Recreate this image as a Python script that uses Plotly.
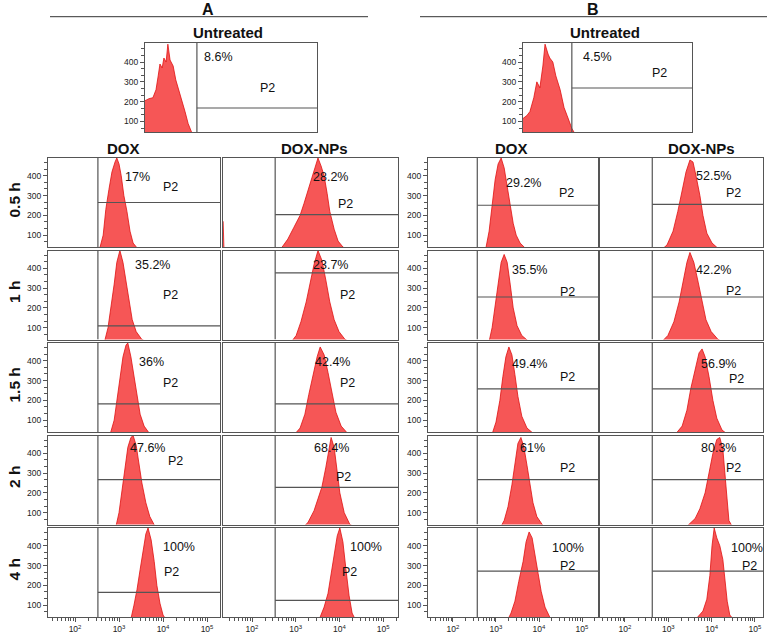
import math
import plotly.graph_objects as go

# ---------------- DATA (x = log10 fluorescence intensity, y = event count) ----------------
times = ["0.5 h", "1 h", "1.5 h", "2 h", "4 h"]
groups = ["A", "B"]
columns = ["DOX", "DOX-NPs"]
x_tick_vals = [2, 3, 4, 5]
x_tick_text = ["10<sup>2</sup>", "10<sup>3</sup>", "10<sup>4</sup>", "10<sup>5</sup>"]
y_tick_vals = [100, 200, 300, 400]

pct_untreated = ["8.6%", "4.5%"]
pct_A_DOX = ["17%", "35.2%", "36%", "47.6%", "100%"]
pct_A_NP = ["28.2%", "23.7%", "42.4%", "68.4%", "100%"]
pct_B_DOX = ["29.2%", "35.5%", "49.4%", "61%", "100%"]
pct_B_NP = ["52.5%", "42.2%", "56.9%", "80.3%", "100%"]

# gate (P2) thresholds
gate_x_untreated = [2.57, 2.52]
gate_y_untreated = [168, 269]
gate_x_cols = [2.52, 2.53, 2.565, 2.63]          # A-DOX, A-NP, B-DOX, B-NP
gate_y_A_DOX = [265, 109, 182, 267, 165]
gate_y_A_NP = [204, 377, 182, 228, 124]
gate_y_B_DOX = [251, 255, 258, 267, 272]
gate_y_B_NP = [256, 255, 258, 267, 272]

# Untreated
UA_x = [1.39, 1.48, 1.57, 1.64, 1.69, 1.73, 1.78, 1.82, 1.87, 1.91, 1.96, 2.03, 2.09, 2.16, 2.23, 2.30, 2.37, 2.46, 2.57, 2.87, 3.55]
UA_y = [205, 215, 220, 260, 330, 390, 370, 420, 400, 490, 410, 380, 310, 260, 200, 150, 90, 40, 12, 5, 2]
UB_x = [1.39, 1.48, 1.55, 1.64, 1.71, 1.78, 1.85, 1.90, 1.97, 2.01, 2.08, 2.15, 2.25, 2.34, 2.41, 2.52, 2.64, 2.94, 3.63]
UB_y = [115, 130, 150, 220, 300, 270, 380, 490, 440, 420, 400, 330, 260, 170, 130, 65, 20, 8, 3]

# A - DOX
A_DOX_05_x = [2.48, 2.57, 2.64, 2.70, 2.77, 2.84, 2.91, 2.95, 3.00, 3.05, 3.11, 3.18, 3.25, 3.32, 3.43, 3.59, 3.89]
A_DOX_05_y = [0, 40, 100, 230, 330, 420, 470, 490, 460, 400, 300, 220, 120, 60, 30, 15, 8]
A_DOX_1_x = [2.57, 2.66, 2.75, 2.82, 2.89, 2.95, 3.02, 3.09, 3.16, 3.23, 3.30, 3.39, 3.52, 3.70, 3.93]
A_DOX_1_y = [0, 20, 100, 200, 320, 430, 490, 430, 330, 230, 140, 80, 40, 20, 8]
A_DOX_15_x = [2.70, 2.80, 2.89, 2.95, 3.02, 3.09, 3.16, 3.20, 3.27, 3.34, 3.41, 3.48, 3.57, 3.70, 3.93]
A_DOX_15_y = [0, 30, 100, 200, 320, 420, 480, 490, 420, 320, 220, 130, 70, 30, 10]
A_DOX_2_x = [2.84, 2.93, 3.00, 3.07, 3.14, 3.20, 3.27, 3.32, 3.39, 3.45, 3.52, 3.61, 3.70, 3.82, 4.05]
A_DOX_2_y = [0, 30, 100, 220, 330, 430, 480, 490, 440, 340, 250, 150, 80, 30, 8]
A_DOX_4_x = [3.20, 3.27, 3.34, 3.41, 3.48, 3.55, 3.61, 3.66, 3.73, 3.80, 3.86, 3.93, 4.00, 4.09, 4.27]
A_DOX_4_y = [0, 30, 100, 180, 280, 380, 460, 490, 430, 320, 200, 110, 50, 20, 5]

# A - DOX-NPs
A_NP_05_x = [1.34, 1.36, 2.18, 2.53, 2.69, 2.82, 2.96, 3.10, 3.19, 3.28, 3.37, 3.44, 3.51, 3.58, 3.65, 3.72, 3.78, 3.88, 3.97, 4.08, 4.24, 4.47]
A_NP_05_y = [170, 10, 8, 15, 40, 80, 140, 200, 260, 330, 390, 440, 490, 450, 400, 310, 220, 130, 70, 40, 20, 8]
A_NP_1_x = [2.64, 2.87, 3.01, 3.12, 3.24, 3.33, 3.42, 3.51, 3.60, 3.69, 3.78, 3.88, 3.99, 4.13, 4.36, 4.70]
A_NP_1_y = [5, 20, 60, 130, 230, 330, 420, 490, 440, 340, 230, 140, 80, 40, 15, 5]
A_NP_15_x = [2.76, 2.94, 3.10, 3.21, 3.30, 3.40, 3.49, 3.56, 3.65, 3.74, 3.83, 3.92, 4.04, 4.20, 4.47]
A_NP_15_y = [5, 20, 60, 130, 230, 330, 420, 470, 430, 340, 230, 140, 70, 30, 10]
A_NP_2_x = [2.98, 3.14, 3.28, 3.42, 3.51, 3.60, 3.69, 3.76, 3.81, 3.88, 3.95, 4.01, 4.11, 4.24, 4.47, 4.70]
A_NP_2_y = [5, 20, 50, 110, 170, 230, 330, 430, 480, 430, 320, 200, 100, 40, 15, 5]
A_NP_4_x = [3.37, 3.46, 3.56, 3.65, 3.74, 3.81, 3.88, 3.95, 4.01, 4.08, 4.15, 4.22, 4.29, 4.38, 4.59]
A_NP_4_y = [0, 15, 40, 90, 160, 260, 370, 450, 490, 420, 280, 150, 60, 20, 5]

# B - DOX
B_DOX_05_x = [2.67, 2.77, 2.84, 2.91, 2.98, 3.05, 3.12, 3.19, 3.26, 3.33, 3.40, 3.47, 3.56, 3.70, 3.91]
B_DOX_05_y = [0, 40, 120, 250, 380, 460, 490, 440, 350, 250, 160, 100, 60, 30, 10]
B_DOX_1_x = [2.74, 2.84, 2.91, 2.98, 3.05, 3.12, 3.19, 3.26, 3.33, 3.40, 3.49, 3.60, 3.79, 4.02]
B_DOX_1_y = [0, 30, 100, 220, 340, 430, 470, 430, 320, 200, 110, 60, 25, 8]
B_DOX_15_x = [2.81, 2.91, 3.00, 3.09, 3.16, 3.23, 3.30, 3.37, 3.44, 3.51, 3.60, 3.72, 3.91, 4.14]
B_DOX_15_y = [0, 30, 90, 200, 320, 420, 470, 430, 330, 220, 120, 60, 25, 8]
B_DOX_2_x = [2.98, 3.09, 3.19, 3.28, 3.37, 3.44, 3.51, 3.58, 3.65, 3.72, 3.79, 3.86, 3.95, 4.09, 4.37]
B_DOX_2_y = [0, 20, 60, 130, 240, 350, 450, 480, 430, 340, 240, 150, 80, 35, 10]
B_DOX_4_x = [3.16, 3.26, 3.35, 3.44, 3.53, 3.63, 3.70, 3.77, 3.84, 3.91, 3.98, 4.05, 4.14, 4.26, 4.49]
B_DOX_4_y = [0, 20, 60, 120, 220, 320, 420, 470, 440, 360, 260, 170, 90, 35, 8]

# B - DOX-NPs
B_NP_05_x = [2.58, 2.81, 2.97, 3.11, 3.22, 3.32, 3.41, 3.50, 3.57, 3.64, 3.73, 3.80, 3.89, 4.01, 4.19, 4.54]
B_NP_05_y = [5, 20, 50, 120, 220, 320, 420, 480, 470, 400, 300, 200, 110, 60, 25, 8]
B_NP_1_x = [2.58, 2.81, 2.99, 3.13, 3.25, 3.34, 3.43, 3.50, 3.59, 3.69, 3.78, 3.87, 3.99, 4.15, 4.38, 4.66]
B_NP_1_y = [5, 20, 60, 130, 230, 330, 430, 480, 430, 330, 230, 140, 80, 40, 15, 5]
B_NP_15_x = [2.92, 3.15, 3.32, 3.43, 3.52, 3.62, 3.71, 3.78, 3.85, 3.94, 4.03, 4.12, 4.24, 4.42, 4.77]
B_NP_15_y = [5, 25, 70, 150, 260, 360, 440, 460, 420, 320, 200, 110, 50, 20, 5]
B_NP_2_x = [3.04, 3.27, 3.45, 3.62, 3.73, 3.85, 3.94, 4.03, 4.12, 4.19, 4.26, 4.31, 4.36, 4.40, 4.49, 4.77, 5.12]
B_NP_2_y = [5, 15, 35, 70, 120, 200, 300, 400, 470, 480, 420, 300, 150, 60, 25, 10, 5]
B_NP_4_x = [3.27, 3.50, 3.66, 3.80, 3.89, 3.96, 4.01, 4.06, 4.12, 4.19, 4.26, 4.31, 4.36, 4.42, 4.54, 4.77]
B_NP_4_y = [5, 15, 35, 70, 130, 250, 400, 490, 440, 400, 330, 220, 120, 50, 20, 8]

# ---------------- LAYOUT (pixel geometry) ----------------
W, H = 776, 633
FONT = "Arial, Liberation Sans, Helvetica, sans-serif"
FILL = "#f65656"
EDGE = "#e01010"
AXC = "#555555"

col_px = [(48, 220), (223, 398), (428, 598), (600, 763)]
col_xrange = [[1.386, 5.295], [1.336, 5.341], [1.419, 5.372], [1.423, 5.187]]
row_tops = [158, 250.5, 343, 435.5, 528]
row_h = 89
grid_yrange = [40, 490]
unt_px = [(145, 317), (523, 692)]
unt_top, unt_bot = 43, 132
unt_xrange = [1.39, 5.3]
unt_yrange = [47, 496]

pct_pos = [
    [(137, 177), (152, 265), (151, 362), (147, 448), (179, 547)],
    [(330, 177), (330, 265), (332, 362), (331, 448), (366, 547)],
    [(523, 183), (529, 270), (529, 364), (532, 448), (568, 548)],
    [(713, 176), (713, 270), (718, 364), (718, 448), (747, 548)],
]
p2_pos = [
    [(170, 187), (170, 295), (170, 383), (175, 461), (171, 572)],
    [(345, 204), (347, 295), (347, 383), (343, 477), (349, 572)],
    [(566, 193), (567, 292), (567, 377), (567, 468), (567, 566)],
    [(733, 193), (733, 291), (736, 379), (733, 468), (749, 566)],
]
unt_pct_pos = [(218, 57), (597, 57)]
unt_p2_pos = [(267, 88), (659, 73)]

grid_x = [
    [A_DOX_05_x, A_DOX_1_x, A_DOX_15_x, A_DOX_2_x, A_DOX_4_x],
    [A_NP_05_x, A_NP_1_x, A_NP_15_x, A_NP_2_x, A_NP_4_x],
    [B_DOX_05_x, B_DOX_1_x, B_DOX_15_x, B_DOX_2_x, B_DOX_4_x],
    [B_NP_05_x, B_NP_1_x, B_NP_15_x, B_NP_2_x, B_NP_4_x],
]
grid_y = [
    [A_DOX_05_y, A_DOX_1_y, A_DOX_15_y, A_DOX_2_y, A_DOX_4_y],
    [A_NP_05_y, A_NP_1_y, A_NP_15_y, A_NP_2_y, A_NP_4_y],
    [B_DOX_05_y, B_DOX_1_y, B_DOX_15_y, B_DOX_2_y, B_DOX_4_y],
    [B_NP_05_y, B_NP_1_y, B_NP_15_y, B_NP_2_y, B_NP_4_y],
]
grid_pct = [pct_A_DOX, pct_A_NP, pct_B_DOX, pct_B_NP]
grid_gate_y = [gate_y_A_DOX, gate_y_A_NP, gate_y_B_DOX, gate_y_B_NP]

minor_x = [math.log10(k * 10 ** n) for n in range(1, 6) for k in range(2, 10)]

fig = go.Figure()
layout = dict(width=W, height=H, margin=dict(l=0, r=0, t=0, b=0),
              paper_bgcolor="white", plot_bgcolor="white", showlegend=False,
              font=dict(family=FONT, color="#111"))
shapes = []
annotations = []


def px_x(p):
    return p / W


def px_y(p):
    return 1 - p / H


def text(x, y, s, size=12.5, bold=False, angle=0):
    annotations.append(dict(x=px_x(x), y=px_y(y), xref="paper", yref="paper", text=f"<b>{s}</b>" if bold else s,
                            showarrow=False, xanchor="center", yanchor="middle", textangle=angle,
                            font=dict(family=FONT, size=size, color="#111")))


state = {"i": 0}


def add_panel(xs, ys, xpx, top, bot, xr, yr, gx, gy, show_y, show_x):
    state["i"] += 1
    i = state["i"]
    sfx = "" if i == 1 else str(i)
    xref, yref = "x" + sfx, "y" + sfx
    fig.add_trace(go.Scatter(x=xs, y=ys, xaxis=xref, yaxis=yref, mode="lines", fill="tozeroy",
                             line=dict(color=EDGE, width=0.8), fillcolor=FILL, hoverinfo="skip"))
    xd = dict(domain=[px_x(xpx[0]), px_x(xpx[1])], range=xr, anchor=yref, showline=True, mirror=True,
              linecolor=AXC, linewidth=1.3, showgrid=False, zeroline=False, fixedrange=True)
    if show_x:
        xd.update(tickmode="array", tickvals=x_tick_vals, ticktext=x_tick_text, ticks="outside",
                  ticklen=4, tickwidth=1, tickcolor=AXC, tickfont=dict(family=FONT, size=8.5, color="#222"),
                  minor=dict(tickmode="array", tickvals=minor_x, ticks="outside", ticklen=2.5,
                             tickwidth=1, tickcolor=AXC))
    else:
        xd.update(showticklabels=False, ticks="")
    yd = dict(domain=[px_y(bot), px_y(top)], range=yr, anchor=xref, showline=True, mirror=True,
              linecolor=AXC, linewidth=1.3, showgrid=False, zeroline=False, fixedrange=True)
    if show_y:
        yd.update(tickmode="array", tickvals=y_tick_vals, ticks="outside", ticklen=4, tickwidth=1,
                  tickcolor=AXC, tickfont=dict(family=FONT, size=8.5, color="#222"),
                  minor=dict(tick0=0, dtick=100 / 3, ticks="outside", ticklen=3, tickwidth=1, tickcolor=AXC))
    else:
        yd.update(showticklabels=False, ticks="")
    layout["xaxis" + sfx] = xd
    layout["yaxis" + sfx] = yd
    shapes.append(dict(type="line", xref=xref, yref=yref, x0=gx, x1=gx, y0=yr[0], y1=yr[1],
                       line=dict(color=AXC, width=1.2)))
    shapes.append(dict(type="line", xref=xref, yref=yref, x0=gx, x1=xr[1], y0=gy, y1=gy,
                       line=dict(color=AXC, width=1.2)))


# Untreated panels
for g, (xs, ys) in enumerate([(UA_x, UA_y), (UB_x, UB_y)]):
    add_panel(xs, ys, unt_px[g], unt_top, unt_bot, unt_xrange, unt_yrange,
              gate_x_untreated[g], gate_y_untreated[g], True, False)
    text(*unt_pct_pos[g], pct_untreated[g])
    text(*unt_p2_pos[g], "P2")

# Time-course grid
for c in range(4):
    for r in range(5):
        add_panel(grid_x[c][r], grid_y[c][r], col_px[c], row_tops[r], row_tops[r] + row_h,
                  col_xrange[c], grid_yrange, gate_x_cols[c], grid_gate_y[c][r],
                  c in (0, 2), r == 4)
        text(*pct_pos[c][r], grid_pct[c][r])
        text(*p2_pos[c][r], "P2")

# Headers
text(208, 9.5, groups[0], size=16, bold=True)
text(593, 9.5, groups[1], size=16, bold=True)
shapes.append(dict(type="line", xref="paper", yref="paper", x0=px_x(50), x1=px_x(368), y0=px_y(16.7), y1=px_y(16.7),
                   line=dict(color="#333", width=1)))
shapes.append(dict(type="line", xref="paper", yref="paper", x0=px_x(420), x1=px_x(767), y0=px_y(16.7), y1=px_y(16.7),
                   line=dict(color="#333", width=1)))
text(228, 32, "Untreated", size=15, bold=True)
text(605, 32, "Untreated", size=15, bold=True)
for cx, lab in zip([124, 314, 511, 701], columns * 2):
    text(cx, 148, lab, size=15, bold=True)
for r, t in enumerate(times):
    text(14, row_tops[r] + row_h / 2 - 3, t, size=15.5, bold=True, angle=-90)

layout["shapes"] = shapes
layout["annotations"] = annotations
fig.update_layout(**layout)
fig.write_html("out.html", config={"displayModeBar": False},
               post_script="document.body.style.margin='0';document.body.style.overflow='hidden';")
